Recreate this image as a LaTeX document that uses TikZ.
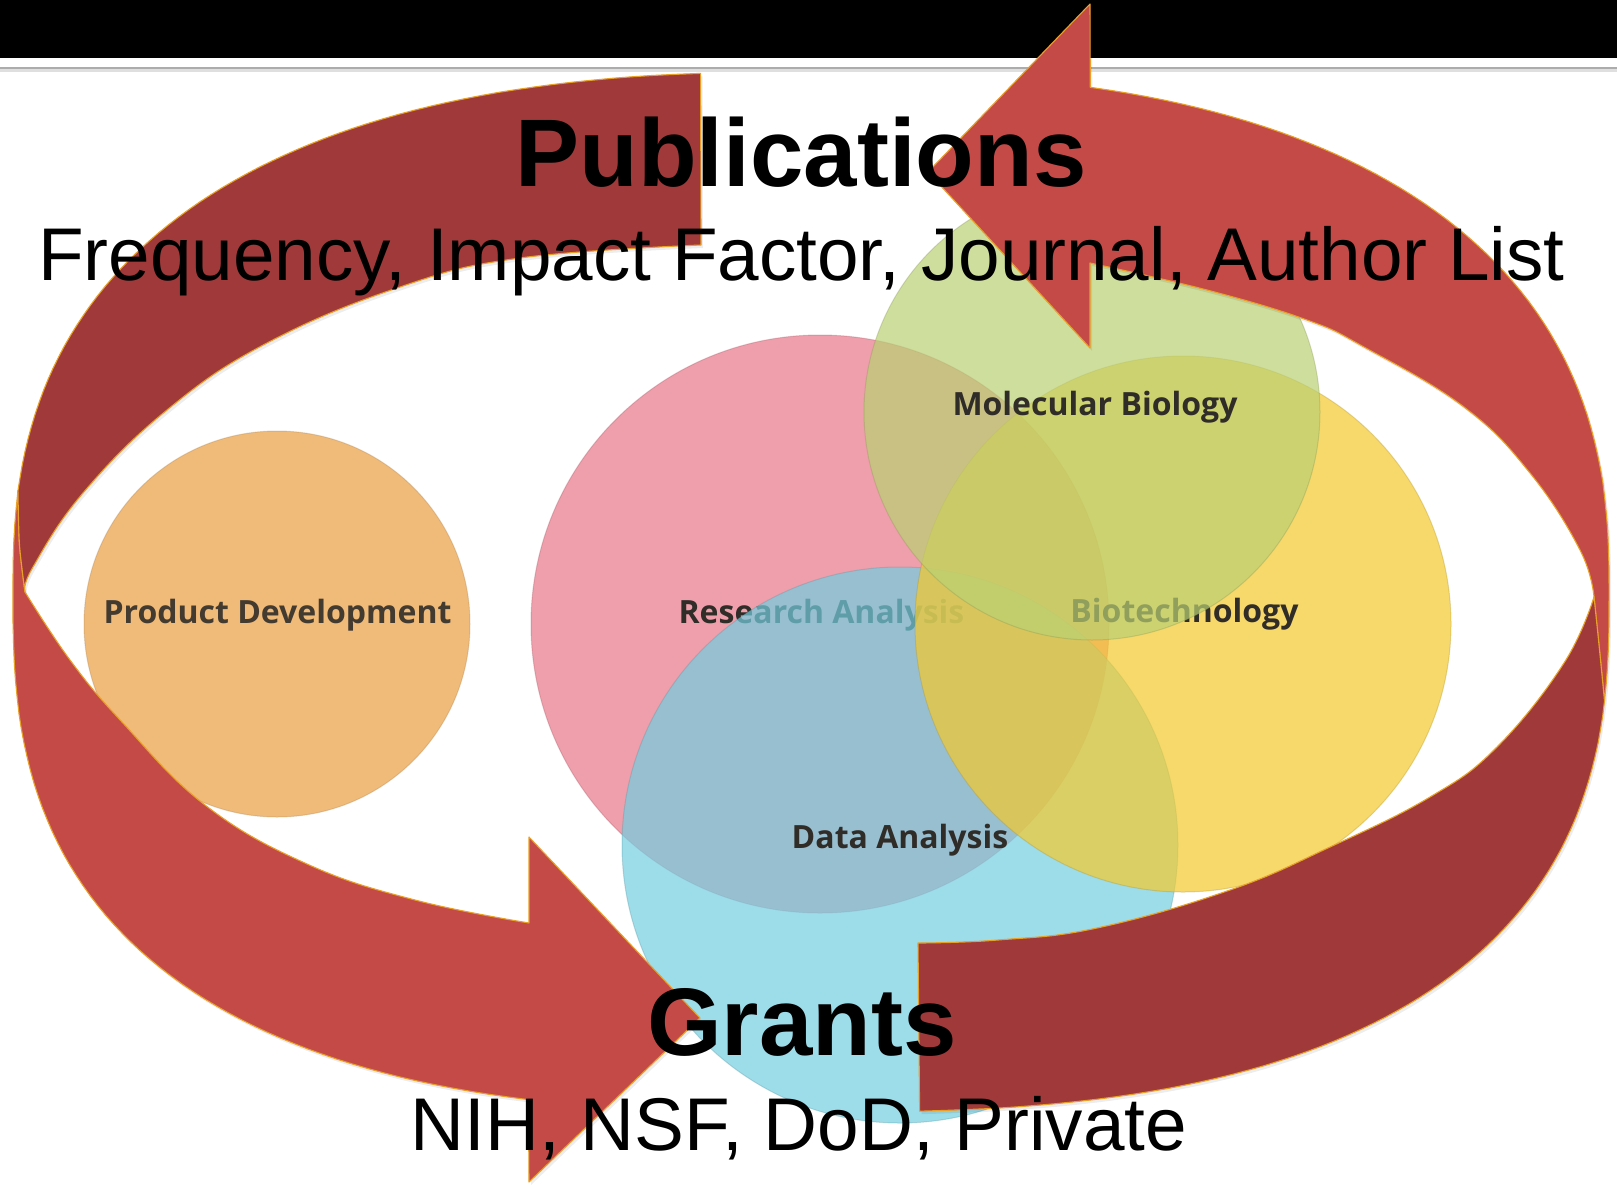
\documentclass[tikz,border=0pt]{standalone}
\usepackage{fontspec}
\setmainfont{Liberation Sans}
\newfontfamily\labfont{Open Sans}
\definecolor{darkred}{RGB}{160,57,58}
\definecolor{lightred}{RGB}{196,74,72}
\definecolor{edgeor}{RGB}{232,160,40}
\definecolor{pinkc}{RGB}{231,119,136}
\definecolor{bluec}{RGB}{116,206,225}
\definecolor{yellowc}{RGB}{244,202,45}
\definecolor{greenc}{RGB}{186,208,115}
\definecolor{orangec}{RGB}{240,186,120}
\definecolor{labc}{RGB}{48,44,40}
\tikzset{declare function={
  ex(\t)=((sin(\t)>0)?0.8:0.75);
  cs(\t)=((cos(\t)<0)?-1:1)*pow(abs(cos(\t))+0.0001,ex(\t));
  sn(\t)=((sin(\t)<0)?-1:1)*pow(abs(sin(\t))+0.0001,ex(\t));
  ox(\t)=811+798*cs(\t);
  oy(\t)=592-520*sn(\t);
}}
\def\pTL{plot[domain=94.81:172.77,samples=60] ({ox(\x)},{oy(\x)}) -- plot[smooth] coordinates {(18,493) (19.5,545) (25,592)} -- plot[smooth,tension=0.7] coordinates {(25,592) (33,567) (83,493) (167,410) (267,343) (400,287) (520,258) (701,245)} -- cycle}
\def\pBL{plot[domain=172.77:255.5,samples=60] ({ox(\x)},{oy(\x)}) -- (529,1182) -- (700,1018) -- (529,837) -- (529,923) -- plot[smooth,tension=0.7] coordinates {(529,923) (415,900) (307,864) (205,805) (122,722) (70,660) (25,592)} -- plot[smooth] coordinates {(25,592) (19.5,545) (18,493)} -- cycle}
\def\pTR{plot[domain=74.39:-7.08,samples=60] ({ox(\x)},{oy(\x)}) -- plot[smooth] coordinates {(1604.4,700) (1599,645) (1594,597)} -- plot[smooth,tension=0.7] coordinates {(1594,597) (1580,550) (1530,473) (1464,407) (1364,347) (1307,320) (1207,290) (1090,263)} -- (1090,348) -- (928,172) -- (1090,4) -- cycle}
\def\pBR{plot[smooth,tension=0.7] coordinates {(918,943) (998,940) (1097,928) (1230,890) (1330,847) (1430,797) (1497,747) (1564,663) (1594,597)} -- plot[smooth] coordinates {(1594,597) (1599,645) (1604.4,700)} -- plot[domain=-7.08:-86.06,samples=60] ({ox(\x)},{oy(\x)}) -- cycle}
\tikzset{
  venn/.style={fill opacity=0.7, draw opacity=0.3, line width=1},
  lab/.style={font=\labfont\bfseries\fontsize{32}{36}\selectfont, text=labc, inner sep=0pt, anchor=base},
  ribbon/.style={draw=edgeor, line width=1.1, line join=round},
  shade/.style={fill=black, opacity=0.07, shift={(2,3)}},
  bigtitle/.style={font=\bfseries\fontsize{96}{100}\selectfont, inner sep=0pt, anchor=base},
  subtitle/.style={font=\fontsize{74.7}{80}\selectfont, inner sep=0pt, anchor=base}
}
\begin{document}
\begin{tikzpicture}[x=1pt,y=-1pt]
\useasboundingbox (0,0) rectangle (1617,1184);
\fill[white] (0,0) rectangle (1617,1184);
% top bar
\fill[black] (0,0) rectangle (1617,57.5);
\draw[gray!25, line width=3] (0,70.5) -- (1617,70.5);
\draw[gray!65, line width=2] (0,67.5) -- (1617,67.5);
% Venn circles
\filldraw[venn, fill=orangec, draw=orangec!70!black, fill opacity=1] (277,624) circle[radius=193];
\node[lab, text=labc!90!orangec] (pd) at (277.5,623) {Product Development};
\filldraw[venn, fill=pinkc, draw=pinkc!70!black] (820,624) circle[radius=289];
\node[lab] (ra) at (821.5,623) {Research Analysis};
\filldraw[venn, fill=bluec, draw=bluec!70!black] (900,845) circle[radius=278];
\node[lab] (da) at (900,848) {Data Analysis};
\filldraw[venn, fill=yellowc, draw=yellowc!70!black] (1183,624) circle[radius=268];
\node[lab] (bt) at (1184.5,622) {Biotechnology};
\filldraw[venn, fill=greenc, draw=greenc!70!black] (1092,412) circle[radius=228];
\node[lab] (mb) at (1095,415) {Molecular Biology};
% arrow shadows
\fill[shade] \pBL;
\fill[shade] \pTR;
\fill[shade] \pTL;
\fill[shade] \pBR;
% arrows
\filldraw[ribbon, fill=lightred] \pBL;
\filldraw[ribbon, fill=lightred] \pTR;
\filldraw[ribbon, fill=darkred] \pTL;
\filldraw[ribbon, fill=darkred] \pBR;
% texts
\node[bigtitle] (pub) at (801,186) {Publications};
\node[subtitle] (freq) at (801.5,280) {Frequency, Impact Factor, Journal, Author List};
\node[bigtitle] (gr) at (802,1055) {Grants};
\node[subtitle] (nih) at (799,1150) {NIH, NSF, DoD, Private};
\end{tikzpicture}
\end{document}
